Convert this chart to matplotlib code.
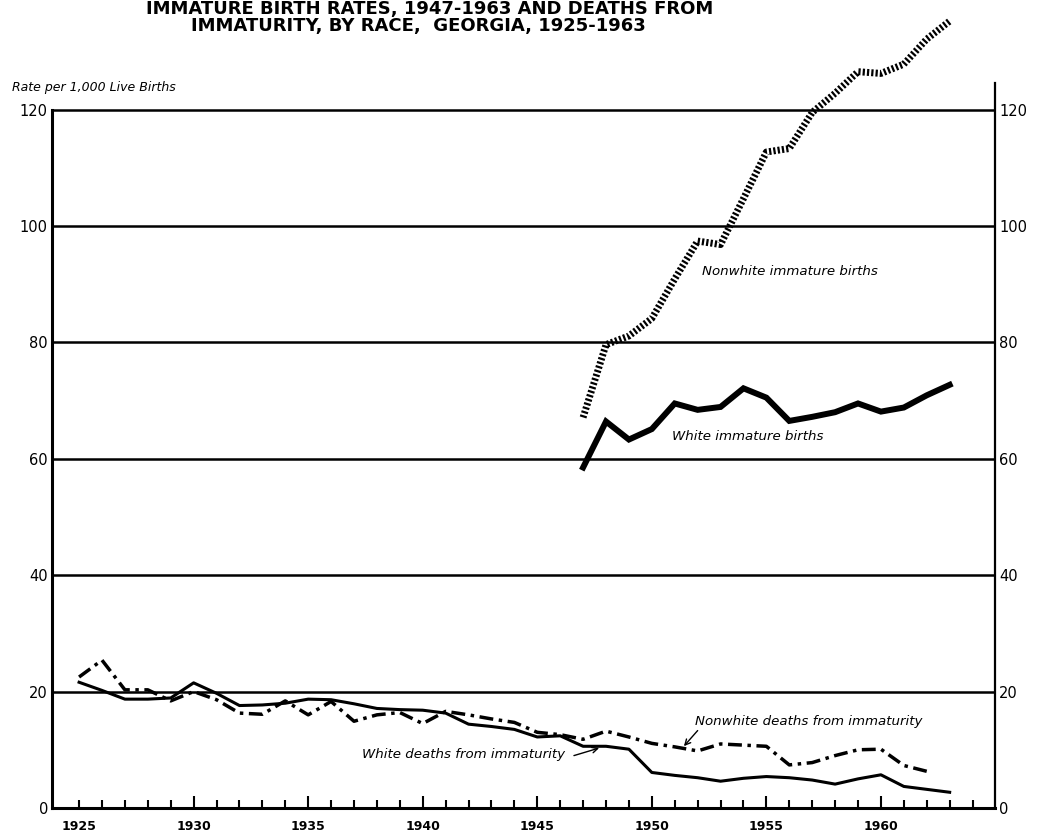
"""Immature birth rates (1947-1963) and deaths from immaturity (1925-1963),
by race, Georgia - redrawn from a scanned chart."""

import matplotlib

matplotlib.use("Agg")

import matplotlib.pyplot as plt
import numpy as np
from matplotlib.ticker import FixedLocator

# Deaths from immaturity, per 1,000 live births
death_years_white = list(range(1925, 1964))
white_deaths = [
    21.6, 20.2, 18.7, 18.7, 18.9, 21.5, 19.7, 17.6, 17.7, 18.0,
    18.7, 18.6, 17.9, 17.1, 16.9, 16.8, 16.3, 14.4, 14.0, 13.5,
    12.2, 12.4, 10.6, 10.6, 10.1, 6.1, 5.6, 5.2, 4.6, 5.1,
    5.4, 5.2, 4.8, 4.1, 5.0, 5.7, 3.7, 3.2, 2.7,
]
death_years_nonwhite = list(range(1925, 1963))
nonwhite_deaths = [
    22.5, 25.4, 20.3, 20.3, 18.4, 20.0, 18.6, 16.3, 16.1, 18.4,
    16.0, 18.3, 14.9, 16.0, 16.4, 14.5, 16.6, 16.0, 15.3, 14.7,
    13.0, 12.6, 11.8, 13.2, 12.2, 11.1, 10.5, 9.8, 11.0, 10.8,
    10.6, 7.4, 7.8, 9.0, 10.0, 10.1, 7.3, 6.3,
]

# Immature births, per 1,000 live births
birth_years = list(range(1947, 1964))
white_births = [
    58.5, 66.4, 63.3, 65.1, 69.5, 68.4, 68.9, 72.1, 70.5, 66.5,
    67.2, 68.0, 69.5, 68.1, 68.8, 70.9, 72.7,
]
nonwhite_births = [
    67.1, 79.6, 81.1, 84.1, 90.9, 97.4, 96.8, 104.7, 112.7, 113.3,
    119.5, 122.8, 126.5, 126.2, 127.8, 132.1, 135.2,
]

y_ticks = [0, 20, 40, 60, 80, 100, 120]
x_major = list(range(1925, 1961, 5))
x_minor = list(range(1926, 1965))

title_top = "IMMATURE BIRTH RATES, 1947-1963 AND DEATHS FROM"
title_bottom = "IMMATURITY, BY RACE,  GEORGIA, 1925-1963"
y_label = "Rate per 1,000 Live Births"

INK = "black"


def main() -> None:
    fig = plt.figure(figsize=(10.43, 8.34), dpi=100)
    ax = fig.add_axes([0.0499, 0.0312, 0.9041, 0.9631])
    ax.set_xlim(1923.82, 1964.98)
    ax.set_ylim(0, 138)

    # horizontal rules at every 20
    for v in y_ticks[1:]:
        ax.axhline(v, color=INK, lw=1.8, zorder=1)

    ax.plot(birth_years, nonwhite_births, color=INK, lw=5.0,
            linestyle=(0, (0.32, 0.3)), zorder=3)
    ax.plot(birth_years, white_births, color=INK, lw=4.3,
            solid_joinstyle="miter", zorder=3)
    ax.plot(death_years_white, white_deaths, color=INK, lw=2.2, zorder=3)
    ax.plot(death_years_nonwhite, nonwhite_deaths, color=INK, lw=2.5,
            linestyle=(0, (4.0, 1.6, 1.0, 1.6)), zorder=3)

    # spines: open top, left stops at 120, right runs a little above
    ax.spines["top"].set_visible(False)
    ax.spines["left"].set_bounds(0, 120)
    ax.spines["right"].set_bounds(0, 124.5)
    ax.spines["left"].set_linewidth(2.2)
    ax.spines["bottom"].set_linewidth(2.2)
    ax.spines["right"].set_linewidth(1.6)

    ax.yaxis.set_major_locator(FixedLocator(y_ticks))
    ax.tick_params(axis="y", length=0, labelsize=10.5, labelleft=True,
                   labelright=True, pad=3)

    ax.xaxis.set_major_locator(FixedLocator(x_major))
    ax.xaxis.set_minor_locator(FixedLocator(x_minor))
    ax.tick_params(axis="x", which="major", direction="in", length=9,
                   width=1.5, labelsize=9, pad=9)
    ax.tick_params(axis="x", which="minor", direction="in", length=5.5,
                   width=1.5)
    for lab in ax.get_xticklabels():
        lab.set_fontweight("bold")
    # the 1925 mark is drawn short on the original
    ax.xaxis.get_major_ticks()[0].tick1line.set_markersize(5.5)

    italic = dict(style="italic", fontsize=9.6, color=INK, va="center",
                  ha="left")
    ax.text(1952.2, 92.2, "Nonwhite immature births", **italic)
    ax.text(1950.9, 63.9, "White immature births", **italic)
    ax.text(1951.9, 14.9, "Nonwhite deaths from immaturity", **italic)
    ax.text(1937.35, 9.2, "White deaths from immaturity", **italic)

    arrow = dict(arrowstyle="->", color=INK, lw=1.0, mutation_scale=10,
                 shrinkA=0, shrinkB=0)
    head_x = 1947.7
    ax.annotate("", xy=(head_x, np.interp(head_x, death_years_white, white_deaths) - 0.3),
                xytext=(1946.6, 9.0), arrowprops=arrow)
    head_x = 1951.4
    ax.annotate("", xy=(head_x, np.interp(head_x, death_years_nonwhite, nonwhite_deaths) + 0.4),
                xytext=(1952.0, 13.3), arrowprops=arrow)

    fig.text(12 / 1043, 1 - 88 / 834, y_label, style="italic", fontsize=9,
             ha="left", va="center")

    title_font = ["Liberation Sans Narrow", "DejaVu Sans"]
    fig.text(430 / 1043, 1 - 14 / 834, title_top, family=title_font,
             weight="bold", fontsize=13, ha="center", va="baseline")
    fig.text(418 / 1043, 1 - 31 / 834, title_bottom, family=title_font,
             weight="bold", fontsize=13, ha="center", va="baseline")

    fig.savefig("out.png", dpi=100)
    plt.close(fig)


if __name__ == "__main__":
    main()
